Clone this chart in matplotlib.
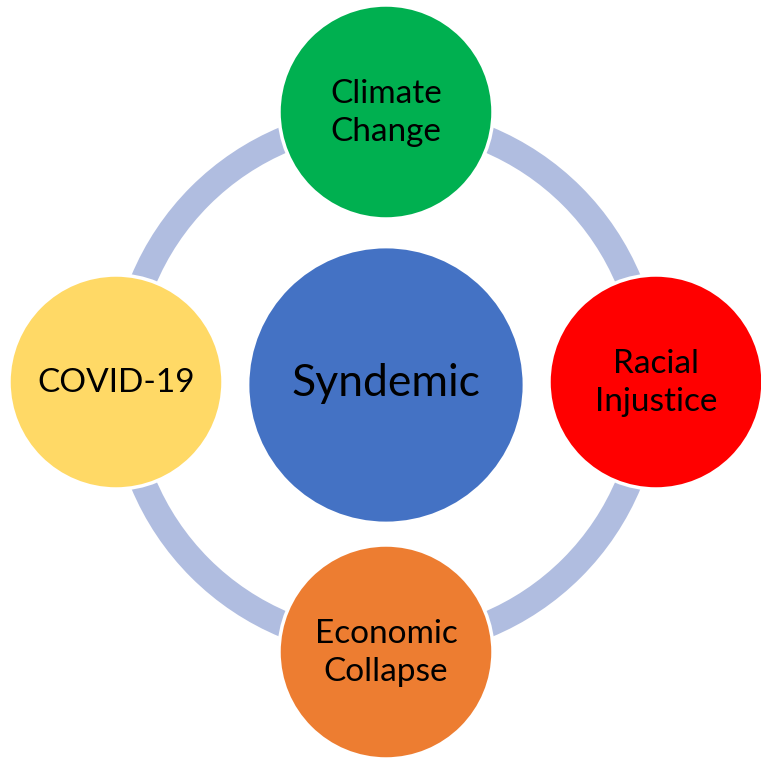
import matplotlib
matplotlib.use("Agg")
import matplotlib.pyplot as plt
from matplotlib.patches import Circle, Wedge
import numpy as np

center_label = "Syndemic"
outer_labels = ["Climate\nChange", "Racial\nInjustice", "Economic\nCollapse", "COVID-19"]
outer_colors = ["#00B050", "#FF0000", "#ED7D31", "#FFD966"]
center_color = "#4472C4"
ring_color = "#B0BDE0"

W, H = 761, 759
fig = plt.figure(figsize=(W / 100, H / 100), dpi=100)
ax = fig.add_axes([0, 0, 1, 1])
ax.set_xlim(0, W)
ax.set_ylim(H, 0)
ax.set_aspect("equal")
ax.axis("off")

cx, cy = 386, 382
ring_r_out, ring_r_in = 276, 250
orbit = 270
outer_r = 107
center_r = 138

ax.add_patch(Wedge((cx, cy), ring_r_out, 0, 360, width=ring_r_out - ring_r_in,
                   facecolor=ring_color, edgecolor="none", zorder=1))

font = ["Lato", "DejaVu Sans"]
ax.add_patch(Circle((cx, cy + 3), center_r, facecolor=center_color, edgecolor="white",
                    linewidth=2, zorder=2))
ax.text(cx, cy + 2, center_label, ha="center", va="center", fontsize=32,
        family=font, color="black", zorder=5)

angles = [90, 0, -90, 180]
for lab, col, ang in zip(outer_labels, outer_colors, angles):
    x = cx + orbit * np.cos(np.radians(ang))
    y = cy - orbit * np.sin(np.radians(ang))
    ax.add_patch(Circle((x, y), outer_r, facecolor=col, edgecolor="white",
                        linewidth=2.5, zorder=3))
    ax.text(x, y + 1, lab, ha="center", va="center", fontsize=24, family=font,
            color="black", linespacing=1.35, zorder=5)

fig.savefig("out.png", dpi=100)
